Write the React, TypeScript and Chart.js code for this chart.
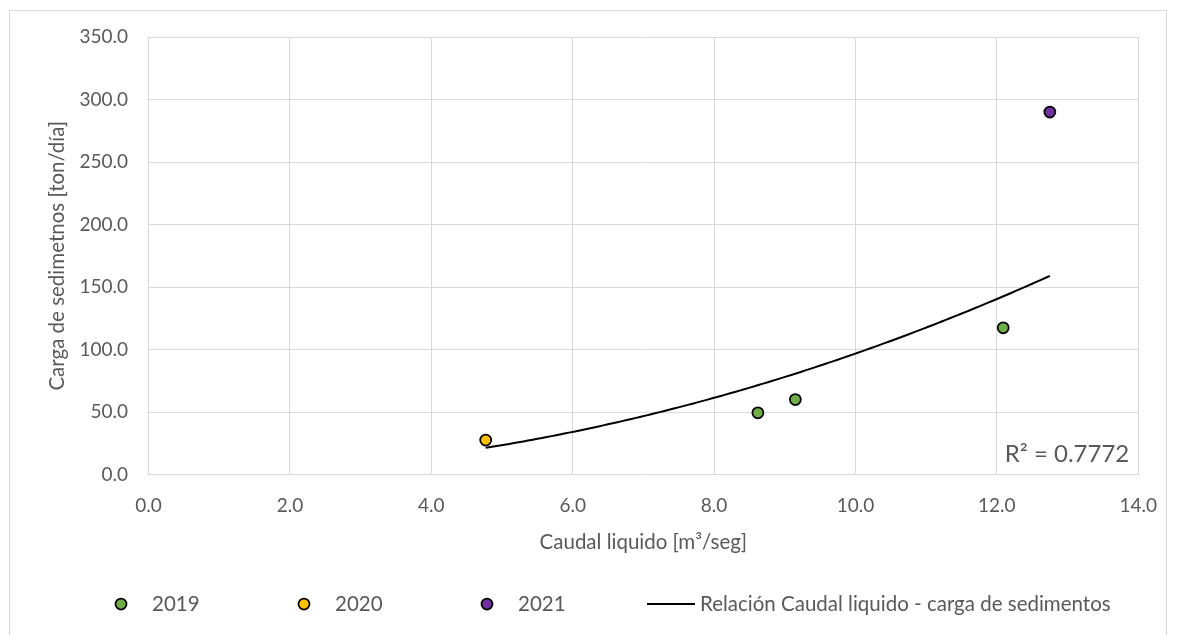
import React, { useEffect, useRef } from "react";
import { Chart, registerables } from "chart.js";

Chart.register(...registerables);

// ---- data ----
const seriesNames = ["2019", "2020", "2021"];
const seriesColors = ["#70AD47", "#FFC000", "#7030A0"];
const caudal2019 = [8.62, 9.15, 12.09];
const carga2019 = [49.4, 60.0, 117.4];
const caudal2020 = [4.77];
const carga2020 = [27.6];
const caudal2021 = [12.75];
const carga2021 = [290.0];
const trendName = "Relación Caudal liquido - carga de sedimentos";
const r2Label = "R² = 0.7772";
const xTitle = "Caudal liquido [m³/seg]";
const yTitle = "Carga de sedimetnos [ton/día]";
const xTickRange = [0, 14, 2];
const yTickRange = [0, 350, 50];

const FONT = "Lato";
const TXT = "#595959";
const GRID = "#d9d9d9";
const TITLE_SIZE = 20.5;

const toPts = (xs: number[], ys: number[]) => xs.map((x, i) => ({ x, y: ys[i] }));

// Power-law trend line (least squares in log space) fitted from the data points
function powerTrend(xs: number[], ys: number[], samples: number) {
  const lx = xs.map(Math.log);
  const ly = ys.map(Math.log);
  const n = xs.length;
  const mx = lx.reduce((a, b) => a + b, 0) / n;
  const my = ly.reduce((a, b) => a + b, 0) / n;
  let sxy = 0, sxx = 0;
  for (let i = 0; i < n; i++) {
    sxy += (lx[i] - mx) * (ly[i] - my);
    sxx += (lx[i] - mx) * (lx[i] - mx);
  }
  const b = sxy / sxx;
  const a = Math.exp(my - b * mx);
  const x0 = Math.min(...xs);
  const x1 = Math.max(...xs);
  const pts: { x: number; y: number }[] = [];
  for (let i = 0; i <= samples; i++) {
    const x = x0 + ((x1 - x0) * i) / samples;
    pts.push({ x, y: a * Math.pow(x, b) });
  }
  return pts;
}

const decorPlugin = {
  id: "decor",
  beforeDraw(chart: any) {
    const ctx = chart.ctx;
    ctx.save();
    ctx.fillStyle = "#ffffff";
    ctx.fillRect(0, 0, chart.width, chart.height);
    ctx.strokeStyle = GRID;
    ctx.lineWidth = 1;
    ctx.strokeRect(9.5, 10.5, 1157, 700);
    ctx.restore();
  },
  afterDatasetsDraw(chart: any) {
    const ctx = chart.ctx;
    const ca = chart.chartArea;
    ctx.save();
    ctx.font = `24px ${FONT}`;
    ctx.fillStyle = TXT;
    ctx.textAlign = "right";
    ctx.textBaseline = "middle";
    ctx.fillText(r2Label, ca.right - 9, ca.bottom - 20);
    ctx.restore();
  },
  afterDraw(chart: any) {
    const ctx = chart.ctx;
    const y = 604;
    const slots = [114, 297, 480, 647];
    ctx.save();
    ctx.font = `${TITLE_SIZE}px ${FONT}`;
    ctx.textBaseline = "middle";
    ctx.textAlign = "left";
    chart.data.datasets.forEach((ds: any, i: number) => {
      const left = slots[i];
      if (ds.type === "line") {
        ctx.strokeStyle = ds.borderColor;
        ctx.lineWidth = 2;
        ctx.beginPath();
        ctx.moveTo(left, y);
        ctx.lineTo(left + 48, y);
        ctx.stroke();
        ctx.fillStyle = TXT;
        ctx.fillText(ds.label, left + 53, y);
      } else {
        ctx.fillStyle = ds.backgroundColor;
        ctx.strokeStyle = "#000000";
        ctx.lineWidth = 1.75;
        ctx.beginPath();
        ctx.arc(left + 7, y, 5.5, 0, Math.PI * 2);
        ctx.fill();
        ctx.stroke();
        ctx.fillStyle = TXT;
        ctx.fillText(ds.label, left + 38, y);
      }
    });
    ctx.restore();
  },
};

export default function App() {
  const ref = useRef<HTMLCanvasElement | null>(null);

  useEffect(() => {
    if (!ref.current) return;
    const allX = [...caudal2019, ...caudal2020, ...caudal2021];
    const allY = [...carga2019, ...carga2020, ...carga2021];
    const trend = powerTrend(allX, allY, 120);

    const scatterDs = (label: string, color: string, data: any[]) => ({
      type: "scatter" as const,
      label,
      data,
      backgroundColor: color,
      borderColor: "#000000",
      borderWidth: 1.75,
      pointRadius: 5.5,
      order: 0,
    });

    const chart = new Chart(ref.current, {
      type: "scatter",
      data: {
        datasets: [
          scatterDs(seriesNames[0], seriesColors[0], toPts(caudal2019, carga2019)),
          scatterDs(seriesNames[1], seriesColors[1], toPts(caudal2020, carga2020)),
          scatterDs(seriesNames[2], seriesColors[2], toPts(caudal2021, carga2021)),
          {
            type: "line" as const,
            label: trendName,
            data: trend,
            borderColor: "#000000",
            borderWidth: 2,
            pointRadius: 0,
            fill: false,
            tension: 0,
            order: 1,
          } as any,
        ],
      },
      options: {
        responsive: false,
        animation: false,
        layout: { padding: { left: 45, right: 33.5, top: 37, bottom: 80.5 } },
        plugins: { legend: { display: false }, tooltip: { enabled: false } },
        scales: {
          x: {
            type: "linear",
            min: xTickRange[0],
            max: xTickRange[1],
            ticks: {
              stepSize: xTickRange[2],
              color: TXT,
              font: { family: FONT, size: 19 },
              padding: 20,
              callback: (v: any) => Number(v).toFixed(1),
            },
            grid: { color: GRID, drawTicks: false, lineWidth: 1 },
            border: { color: GRID },
            title: {
              display: true,
              text: xTitle,
              color: TXT,
              font: { family: FONT, size: TITLE_SIZE },
              padding: 0,
            },
            afterFit: (s: any) => {
              s.height = 80;
            },
          },
          y: {
            type: "linear",
            min: yTickRange[0],
            max: yTickRange[1],
            ticks: {
              stepSize: yTickRange[2],
              color: TXT,
              font: { family: FONT, size: 19 },
              padding: 20.5,
              callback: (v: any) => Number(v).toFixed(1),
            },
            grid: { color: GRID, drawTicks: false, lineWidth: 1 },
            border: { color: GRID },
            title: {
              display: true,
              text: yTitle,
              color: TXT,
              font: { family: FONT, size: TITLE_SIZE },
              padding: 0,
            },
            afterFit: (s: any) => {
              s.width = 103.5;
            },
          },
        },
      },
      plugins: [decorPlugin],
    });
    return () => chart.destroy();
  }, []);

  return (
    <div style={{ position: "fixed", left: 0, top: 0, width: 1177, height: 635, background: "#fff" }}>
      <canvas ref={ref} width={1177} height={635} style={{ display: "block" }} />
    </div>
  );
}
